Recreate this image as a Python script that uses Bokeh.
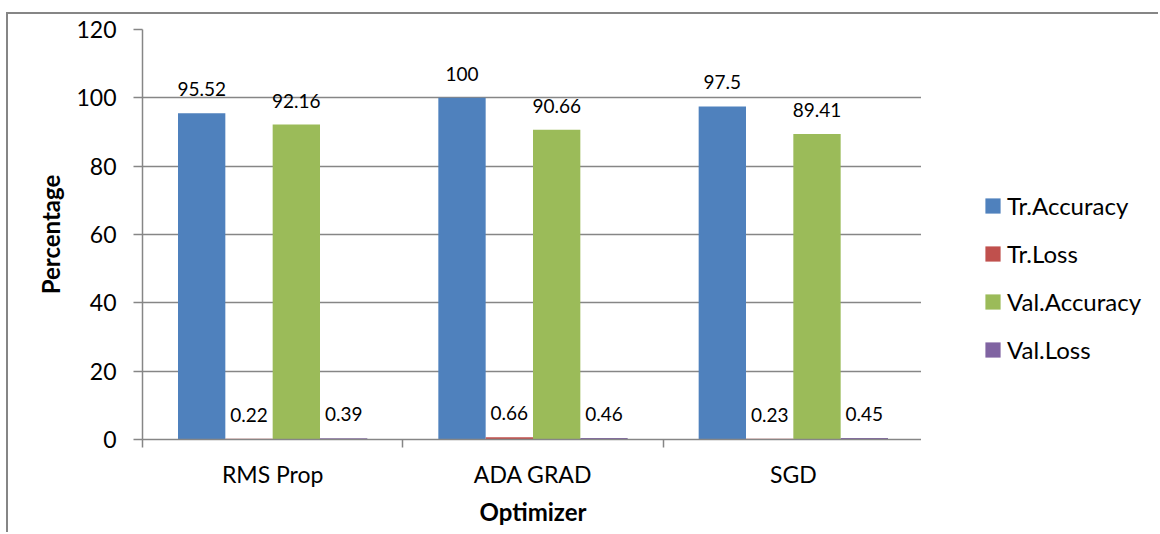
from bokeh.plotting import figure
from bokeh.layouts import row
from bokeh.models import (Range1d, FixedTicker, LabelSet, ColumnDataSource,
                          Legend, LegendItem)
from bokeh.core.properties import value
from bokeh.embed import file_html
from bokeh.resources import INLINE

# ---- data -------------------------------------------------------------
optimizers = ["RMS Prop", "ADA GRAD", "SGD"]
series_names = ["Tr.Accuracy", "Tr.Loss", "Val.Accuracy", "Val.Loss"]
tr_accuracy = [95.52, 100, 97.5]
tr_loss = [0.22, 0.66, 0.23]
val_accuracy = [92.16, 90.66, 89.41]
val_loss = [0.39, 0.46, 0.45]
y_ticks = [0, 20, 40, 60, 80, 100, 120]

series_values = [tr_accuracy, tr_loss, val_accuracy, val_loss]
colors = ["#4F81BD", "#C0504D", "#9BBB59", "#8064A2"]

FONT = "Lato"
GRAY = "#868686"
LINE = f"2px solid {GRAY}"

n_cat = len(optimizers)
n_series = len(series_names)

# ---- main chart ---------------------------------------------------------
p = figure(width=915, height=520, output_backend="svg", toolbar_location=None,
           x_range=Range1d(0, n_cat), y_range=Range1d(0, 120),
           min_border_left=134, min_border_top=15, min_border_right=0,
           min_border_bottom=95)
p.margin = (12, 0, 0, 6)
p.styles = {"border-left": LINE, "border-top": LINE}
p.outline_line_color = None
p.background_fill_color = "white"
p.border_fill_color = "white"

# clustered bars: 4 bars per group, gap of 1.5 bar widths between groups
bar_w = 1.0 / (n_series + 1.5)

sources = []
for j, (vals, col) in enumerate(zip(series_values, colors)):
    xs = [i + 0.5 + (j - (n_series - 1) / 2) * bar_w for i in range(n_cat)]
    src = ColumnDataSource(dict(x=xs, top=vals,
                                label=[f"{v:g}" for v in vals]))
    sources.append(src)
    p.vbar(x="x", top="top", width=bar_w, bottom=0, source=src,
           fill_color=col, line_color=None)
    p.add_layout(LabelSet(x="x", y="top", text="label", source=src,
                          text_align="center", text_baseline="middle",
                          y_offset=24, text_font=value(FONT),
                          text_font_size=value("19px"), text_color="black"))

xa = p.xaxis[0]
xa.ticker = FixedTicker(ticks=[i + 0.5 for i in range(n_cat)],
                        minor_ticks=list(range(n_cat + 1)))
xa.major_label_overrides = {i + 0.5: n for i, n in enumerate(optimizers)}
xa.major_tick_out = 0
xa.major_tick_in = 0
xa.minor_tick_out = 8
xa.minor_tick_in = 0
xa.minor_tick_line_color = GRAY
xa.minor_tick_line_width = 1.5
xa.axis_line_color = GRAY
xa.axis_line_width = 1.5
xa.major_label_text_font = FONT
xa.major_label_text_font_size = "23px"
xa.major_label_text_color = "black"
xa.major_label_standoff = 12
xa.axis_label = "Optimizer"
xa.axis_label_text_font = FONT
xa.axis_label_text_font_size = "24px"
xa.axis_label_text_font_style = "bold"
xa.axis_label_text_color = "black"
xa.axis_label_standoff = 6

ya = p.yaxis[0]
ya.ticker = FixedTicker(ticks=y_ticks)
ya.major_tick_out = 9
ya.major_tick_in = 0
ya.major_tick_line_color = GRAY
ya.major_tick_line_width = 1.5
ya.minor_tick_line_color = None
ya.axis_line_color = GRAY
ya.axis_line_width = 1.5
ya.major_label_text_font = FONT
ya.major_label_text_font_size = "23px"
ya.major_label_text_color = "black"
ya.major_label_standoff = 17
ya.axis_label = "Percentage"
ya.axis_label_text_font = FONT
ya.axis_label_text_font_size = "24px"
ya.axis_label_text_font_style = "bold"
ya.axis_label_text_color = "black"
ya.axis_label_standoff = 8

p.xgrid.visible = False
p.ygrid.ticker = FixedTicker(ticks=y_ticks[1:])
p.ygrid.grid_line_color = GRAY
p.ygrid.grid_line_width = 1.5

# ---- legend panel ----------------------------------------------------------
# a companion plot holding the legend; its key renderers share the series
# sources but have zero width, so only the legend swatches show
lg = figure(width=237, height=520, output_backend="svg", toolbar_location=None,
            x_range=Range1d(0, n_cat), y_range=Range1d(0, 120),
            min_border_left=0, min_border_right=0, min_border_top=0,
            min_border_bottom=0)
lg.margin = (12, 0, 0, 0)
lg.styles = {"border-top": LINE}
lg.axis.visible = False
lg.grid.visible = False
lg.outline_line_color = None
lg.background_fill_color = "white"
lg.border_fill_color = "white"

legend_items = []
for name, col, src in zip(series_names, colors, sources):
    r = lg.vbar(x="x", top="top", width=0, source=src,
                fill_color=col, line_color=None)
    legend_items.append(LegendItem(label=name, renderers=[r], index=0))

legend = Legend(items=legend_items, location=(62, 75),
                orientation="vertical", padding=0, margin=0, spacing=19,
                glyph_width=19, glyph_height=19, label_standoff=5,
                label_text_font=FONT, label_text_font_size="24px",
                label_text_color="black", border_line_color=None,
                background_fill_alpha=0)
lg.add_layout(legend, "center")

layout = row(p, lg, spacing=0)
open("out.html", "w").write(file_html(layout, INLINE))
